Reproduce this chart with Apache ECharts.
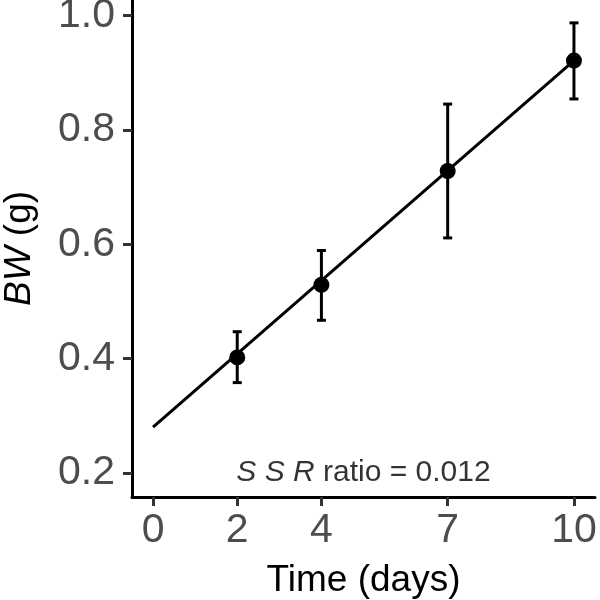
<!DOCTYPE html>
<html><head><meta charset="utf-8">
<script src="https://cdn.jsdelivr.net/npm/echarts@6/dist/echarts.min.js"></script>
<style>html,body{margin:0;padding:0;background:#fff}#c{width:600px;height:600px}</style>
</head><body><div id="c"></div>
<script>
const days = [2, 4, 7, 10];
const bwMean = [0.402, 0.529, 0.728, 0.921];
const bwLow = [0.358, 0.467, 0.611, 0.854];
const bwHigh = [0.447, 0.589, 0.845, 0.987];
const fitLine = [[0, 0.280], [10, 0.921]];
const xTicks = [0, 2, 4, 7, 10];
const yTicks = [0.2, 0.4, 0.6, 0.8, 1.0];
const annotation = {x: 5, y: 0.2, ratio: '0.012'};

const chart = echarts.init(document.getElementById('c'), null, {renderer: 'canvas'});
const font = 'Liberation Sans, Arial, sans-serif';
chart.setOption({
  animation: false,
  grid: {left: 132, right: 5, top: 0, bottom: 103, containLabel: false, outerBoundsMode: 'none'},
  xAxis: {
    type: 'value', min: -0.5, max: 10.5,
    splitLine: {show: false},
    axisLine: {show: true, onZero: false, lineStyle: {color: '#000', width: 3}},
    axisTick: {show: true, length: 9, customValues: xTicks, lineStyle: {color: '#333', width: 3}},
    axisLabel: {customValues: xTicks, color: '#4d4d4d', fontSize: 41, fontFamily: font, margin: 13},
    name: 'Time (days)', nameLocation: 'middle', nameGap: 65,
    nameTextStyle: {color: '#000', fontSize: 37, fontFamily: font}
  },
  yAxis: {
    type: 'value', min: 0.158, max: 1.027,
    splitLine: {show: false},
    axisLine: {show: true, onZero: false, lineStyle: {color: '#000', width: 3}},
    axisTick: {show: true, length: 9, customValues: yTicks, lineStyle: {color: '#333', width: 3}},
    axisLabel: {customValues: yTicks, color: '#4d4d4d', fontSize: 41, fontFamily: font, margin: 17,
      formatter: v => v.toFixed(1)},
    name: '{i|BW} (g)', nameLocation: 'middle', nameGap: 94, nameRotate: 90,
    nameTextStyle: {color: '#000', fontSize: 37, fontFamily: font,
      rich: {i: {fontStyle: 'italic', fontSize: 37, fontFamily: font, color: '#000'}}}
  },
  series: [
    {
      type: 'line', data: fitLine, symbol: 'none', silent: true,
      lineStyle: {color: '#000', width: 3}
    },
    {
      type: 'custom',
      data: days.map((d, i) => [d, bwLow[i], bwHigh[i]]),
      renderItem: function (params, api) {
        const x = api.value(0);
        const lo = api.coord([x, api.value(1)]);
        const hi = api.coord([x, api.value(2)]);
        const w = 4.5;
        const st = {stroke: '#000', lineWidth: 3};
        return {type: 'group', children: [
          {type: 'line', shape: {x1: lo[0], y1: lo[1], x2: hi[0], y2: hi[1]}, style: st},
          {type: 'line', shape: {x1: lo[0] - w, y1: lo[1], x2: lo[0] + w, y2: lo[1]}, style: st},
          {type: 'line', shape: {x1: hi[0] - w, y1: hi[1], x2: hi[0] + w, y2: hi[1]}, style: st}
        ]};
      },
      z: 3
    },
    {
      type: 'scatter', data: days.map((d, i) => [d, bwMean[i]]),
      symbol: 'circle', symbolSize: 16, itemStyle: {color: '#000', opacity: 1}, z: 4
    },
    {
      type: 'scatter', data: [[annotation.x, annotation.y]], symbolSize: 0, silent: true,
      label: {show: true, position: 'inside', formatter: '{i|S S R} ratio = ' + annotation.ratio,
        color: '#000', fontSize: 30, fontFamily: font,
        rich: {i: {fontStyle: 'italic', fontSize: 30, fontFamily: font, color: '#000'}}}
    }
  ]
});
</script></body></html>
